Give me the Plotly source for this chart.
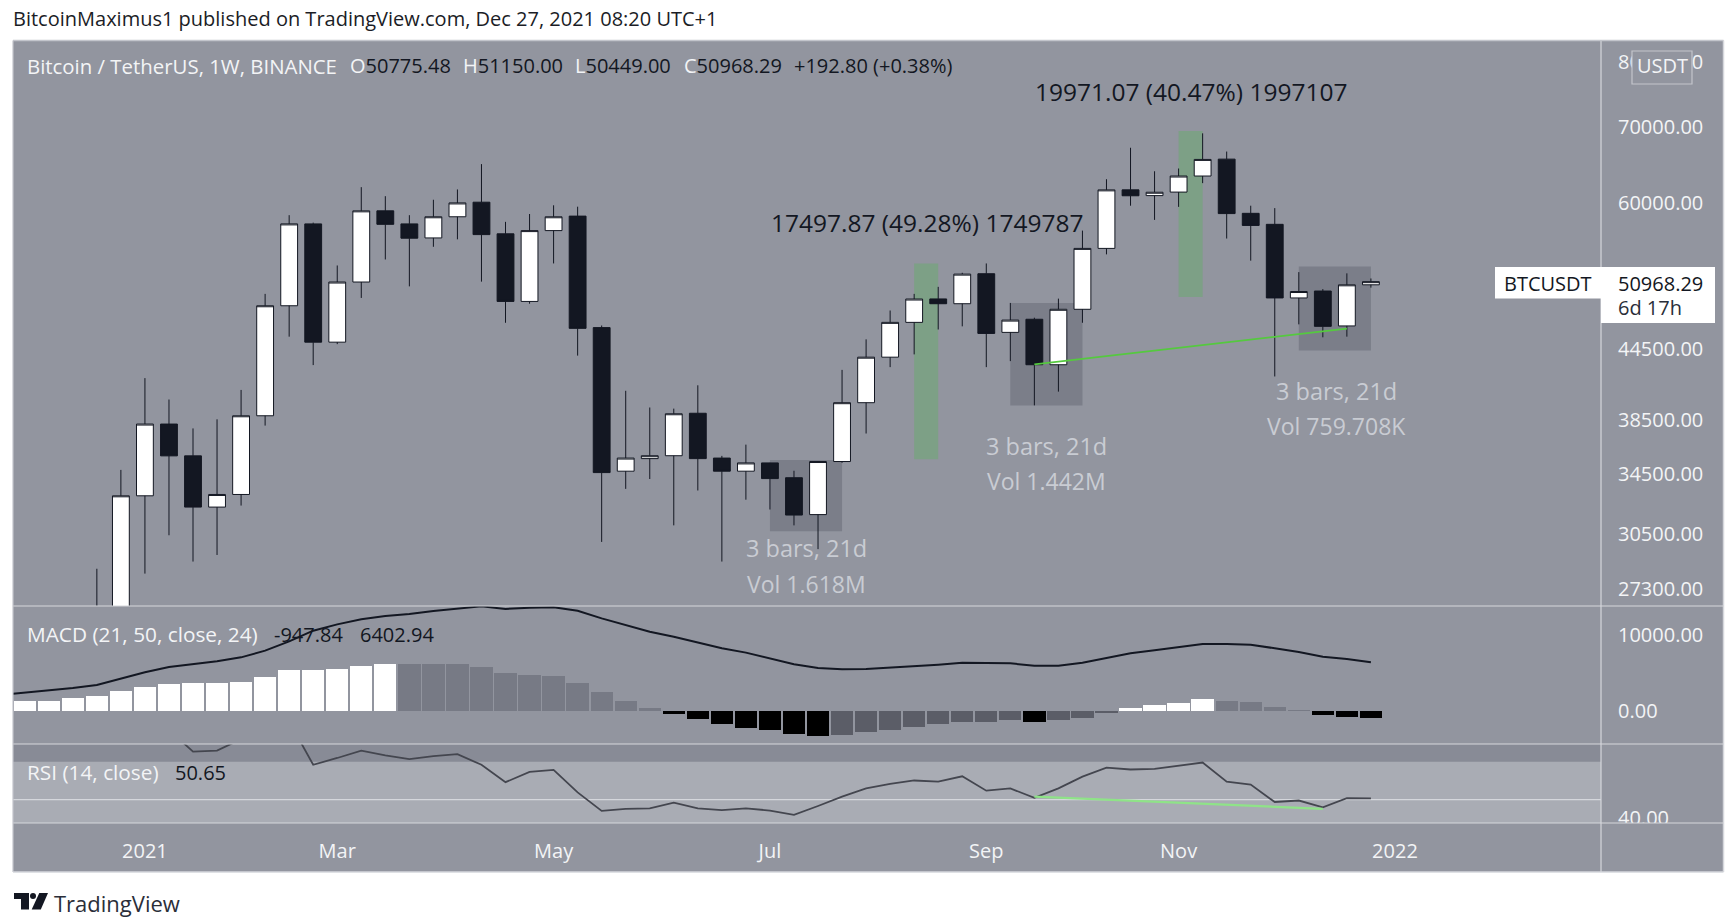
import numpy as np
import pandas as pd
import plotly.graph_objects as go
from plotly.subplots import make_subplots

W, H = 1735, 924

dates = pd.date_range("2020-11-23", periods=58, freq="W-MON")

opens = [18400, 18180, 19360, 19170, 23800, 26200, 33000, 38200, 35800, 32250, 33090,
         38850, 48620, 57450, 45140, 51030, 59000, 57450, 55830, 58290, 60050,
         56300, 49050, 56670, 58370, 46500, 34700, 35600, 35810, 39050, 35640,
         34700, 35290, 34240, 31760, 35390, 39900, 43780, 47000, 49300, 48820,
         51900, 46050, 47300, 43110, 48270, 54650, 61580, 60860, 61300, 63340,
         65560, 58700, 57400, 49400, 50100, 46660, 50740]
highs = [19500, 19900, 19700, 24300, 28440, 34790, 41950, 40160, 37860, 38570, 40950,
         49810, 58480, 57600, 52780, 61920, 60790, 58480, 60350, 61630, 64900,
         57690, 58620, 59670, 59500, 46700, 40880, 39510, 39420, 41340, 35800,
         36630, 35300, 34730, 35400, 42660, 45400, 48150, 49810, 50530, 52000,
         53000, 48900, 47450, 49330, 56670, 62930, 67100, 63960, 64320, 69100,
         66580, 59620, 59330, 52070, 50300, 51940, 51400]
lows = [16200, 17800, 18500, 19000, 21900, 25900, 28160, 30450, 28860, 29250, 32350,
        38080, 45650, 43080, 44960, 49400, 53430, 50580, 54830, 55670, 51070,
        46960, 48820, 53000, 43920, 30040, 33470, 34150, 31070, 33360, 28860,
        32740, 32090, 31070, 29600, 35300, 37470, 42900, 44030, 46320, 46620,
        42900, 43430, 39680, 40810, 46960, 53990, 59620, 57920, 59480, 62430,
        55760, 53300, 42090, 46810, 45590, 45650, 50449]
closes = [18180, 19360, 19170, 23800, 26200, 33000, 38200, 35800, 32250, 33090, 38850,
          48620, 57450, 45140, 51030, 59000, 57400, 55800, 58290, 59960, 56210,
          49050, 56670, 58290, 46430, 34600, 35640, 35810, 39010, 35600, 34700,
          35290, 34180, 31730, 35390, 39900, 43780, 47000, 49290, 48820, 51860,
          45950, 47220, 43110, 48270, 54650, 61580, 60840, 61280, 63340, 65520,
          58670, 57270, 49400, 50050, 46620, 50740, 51070]

macd_hist = [1200, 1360, 1370, 1670, 1970, 2590, 3200, 3510, 3680, 3700, 3820,
             4430, 5350, 5360, 5530, 5960, 6160, 6140, 6130, 6120, 5830,
             5040, 4740, 4600, 3680, 2460, 1360, 440, -350, -1100, -1710,
             -2190, -2500, -2980, -3290, -3110, -2810, -2500, -2060, -1710, -1420,
             -1400, -1230, -1400, -1230, -960, -220, 440, 750, 1050, 1540,
             1360, 1180, 570, 130, -480, -790, -947.84]
macd_line = [2120, 2410, 2680, 3030, 3420, 4250, 5090, 5790, 6180, 6535, 7060,
             7940, 9170, 10570, 11400, 12060, 12500, 12760, 13160, 13510, 13770,
             13420, 13600, 13640, 13200, 12190, 11320, 10440, 9780, 8990, 8250,
             7680, 6930, 6140, 5660, 5480, 5530, 5700, 5960, 6100, 6360,
             6320, 6270, 5960, 5960, 6360, 7020, 7590, 7980, 8420, 8820,
             8820, 8730, 8250, 7760, 7150, 6840, 6402.94]
rsi_line = [85, 86, 87, 88, 90, 92, 93, 86.8, 75.4, 75.9, 81.4,
            88, 91.4, 68.4, 72, 75.9, 73.4, 71.4, 73, 74, 68.4,
            59.2, 64.6, 65.7, 53.8, 44, 45.1, 45.3, 48.4, 45.3, 44.4,
            45.3, 44.2, 41.9, 46.6, 51.6, 55.9, 58.3, 60.1, 59.5, 62.3,
            54.7, 55.9, 50.9, 55.9, 62.1, 66.9, 65.9, 66.2, 67.8, 69.6,
            59.5, 57.9, 48.7, 49.5, 45.9, 50.7, 50.65]

price_ticks = [80000, 70000, 60000, 50000, 44500, 38500, 34500, 30500, 27300]
price_labels = ["80000.00", "70000.00", "60000.00", "50000.00", "44500.00",
                "38500.00", "34500.00", "30500.00", "27300.00"]
macd_ticks = [10000, 0]
macd_labels = ["10000.00", "0.00"]
rsi_ticks = [40]
rsi_labels = ["40.00"]
month_ticks = ["2021-01-04", "2021-03-01", "2021-05-03", "2021-07-05",
               "2021-09-06", "2021-11-01", "2022-01-03"]
month_labels = ["2021", "Mar", "May", "Jul", "Sep", "Nov", "2022"]

# drawings: (start, end, top price, bottom price)
grey_boxes = [("2021-07-05", "2021-07-26", 35500, 30700),
              ("2021-09-13", "2021-10-04", 48900, 39680),
              ("2021-12-06", "2021-12-27", 52660, 44390)]
green_boxes = [("2021-08-16", "2021-08-23", 53000, 35560),
               ("2021-11-01", "2021-11-08", 69440, 49490)]
div_dates = ["2021-09-20", "2021-12-20"]
div_prices = [43150, 46400]
rsi_div_dates = ["2021-09-20", "2021-12-13"]
rsi_div_values = [51.6, 45.1]

BG = "#92959f"
TXT = "#f3f4f6"
DARK = "#131722"
FONT = "Open Sans"


def px(x, y):
    return x / W, 1 - y / H


# histogram shading follows direction of the value
bar_colors = []
for i, v in enumerate(macd_hist):
    prev = macd_hist[i - 1] if i else v - 1
    if v >= 0:
        bar_colors.append("#ffffff" if v > prev else "#777a85")
    else:
        bar_colors.append("#000000" if v < prev else "#5b5d67")

fig = make_subplots(rows=3, cols=1, shared_xaxes=True)

fig.add_trace(go.Candlestick(
    x=dates, open=opens, high=highs, low=lows, close=closes, whiskerwidth=0,
    increasing=dict(line=dict(color=DARK, width=1), fillcolor="#ffffff"),
    decreasing=dict(line=dict(color=DARK, width=1), fillcolor=DARK),
    hoverinfo="skip"), row=1, col=1)
fig.add_trace(go.Scatter(x=div_dates, y=div_prices, mode="lines",
                         line=dict(color="#55c93f", width=1.8)), row=1, col=1)

fig.add_trace(go.Bar(x=dates, y=macd_hist, marker_color=bar_colors, marker_line_width=0,
                     width=6.5 * 86400000), row=2, col=1)
fig.add_trace(go.Scatter(x=dates, y=macd_line, mode="lines",
                         line=dict(color=DARK, width=2)), row=2, col=1)

fig.add_trace(go.Scatter(x=dates, y=rsi_line, mode="lines",
                         line=dict(color="#44464f", width=1.8)), row=3, col=1)
fig.add_trace(go.Scatter(x=rsi_div_dates, y=rsi_div_values, mode="lines",
                         line=dict(color="#8fe388", width=2.2)), row=3, col=1)

shapes = []


def paper_rect(x0, y0, x1, y1, fill, layer="below"):
    a, b = px(x0, y0)
    c, d = px(x1, y1)
    shapes.append(dict(type="rect", xref="paper", yref="paper", x0=a, y0=b, x1=c, y1=d,
                       fillcolor=fill, line_width=0, layer=layer))


def paper_line(x0, y0, x1, y1, color="#d5d7dc", width=1.2):
    a, b = px(x0, y0)
    c, d = px(x1, y1)
    shapes.append(dict(type="line", xref="paper", yref="paper", x0=a, y0=b, x1=c, y1=d,
                       line=dict(color=color, width=width), layer="above"))


def paper_path(points, fill):
    path = ""
    for i, (x, y) in enumerate(points):
        a, b = px(x, y)
        path += ("M" if i == 0 else "L") + f"{a:.5f},{b:.5f} "
    shapes.append(dict(type="path", xref="paper", yref="paper", path=path + "Z",
                       fillcolor=fill, line_width=0))


paper_rect(13, 40.5, 1723.5, 872, BG)
paper_rect(13, 744, 1601, 823, "#888b96")

for x0, x1, top, bottom in grey_boxes:
    shapes.append(dict(type="rect", xref="x", yref="y", x0=x0, x1=x1, y0=bottom, y1=top,
                       fillcolor="rgba(100,103,115,0.5)", line_width=0, layer="below"))
for x0, x1, top, bottom in green_boxes:
    shapes.append(dict(type="rect", xref="x", yref="y", x0=x0, x1=x1, y0=bottom, y1=top,
                       fillcolor="rgba(80,185,80,0.32)", line_width=0, layer="below"))

shapes.append(dict(type="rect", xref="x3 domain", yref="y3", x0=0, x1=1, y0=30, y1=70,
                   fillcolor="#a9acb4", line_width=0, layer="below"))
shapes.append(dict(type="line", xref="x3 domain", yref="y3", x0=0, x1=1, y0=50, y1=50,
                   line=dict(color="#d5d7dc", width=1.2), layer="below"))

# clips the bottom of the 40.00 label, like the pane edge does
paper_rect(1602, 823, 1723.5, 871, BG, layer="above")

for y in (606, 744, 823):
    paper_line(13, y, 1723.5, y)
paper_line(1601, 40.5, 1601, 872)
paper_line(13, 40.5, 1723.5, 40.5, "#c3c5cc", 1.5)
paper_line(13, 40.5, 13, 872, "#c3c5cc", 1.2)
paper_line(13, 872, 1723.5, 872, "#d5d7dc", 1.5)
paper_line(1723.5, 40.5, 1723.5, 872, "#d5d7dc", 1.5)

# last price label
paper_rect(1495, 267, 1715, 298.5, "#ffffff", layer="above")
paper_rect(1601, 298, 1715, 323, "#ffffff", layer="above")

# currency button
a0, b0 = px(1632, 84)
a1, b1 = px(1692, 51)
shapes.append(dict(type="rect", xref="paper", yref="paper", x0=a0, y0=b0, x1=a1, y1=b1,
                   fillcolor=BG, line=dict(color="#c3c5cc", width=1.2), layer="above"))

# logo
paper_path([(14, 893), (29, 893), (29, 909.5), (21, 909.5), (21, 899), (14, 899)], DARK)
paper_path([(39.3, 893), (48, 893), (40.8, 909.5), (31.7, 909.5)], DARK)
a0, b0 = px(30, 893)
a1, b1 = px(36, 899)
shapes.append(dict(type="circle", xref="paper", yref="paper", x0=a0, y0=b0, x1=a1, y1=b1,
                   fillcolor=DARK, line_width=0))

annotations = []


def label(x, y, text, color=TXT, size=20, anchor="left"):
    a, b = px(x, y)
    annotations.append(dict(xref="paper", yref="paper", x=a, y=b, text=text, showarrow=False,
                            xanchor=anchor, yanchor="middle", borderpad=0,
                            font=dict(family=FONT, size=size, color=color)))


def ohlc(x, letter, value):
    label(x, 66, f'<span style="color:{TXT}">{letter}</span>{value}', DARK)


label(12, 19, "BitcoinMaximus1 published on TradingView.com, Dec 27, 2021 08:20 UTC+1", "#1b1d26")
label(26, 66, "Bitcoin / TetherUS, 1W, BINANCE", TXT, 20.4)
ohlc(349, "O", "50775.48")
ohlc(462, "H", "51150.00")
ohlc(574, "L", "50449.00")
ohlc(683, "C", "50968.29")
label(793, 66, "+192.80 (+0.38%)", DARK)
label(770, 223, "17497.87 (49.28%) 1749787", DARK, 24.5)
label(1034, 91, "19971.07 (40.47%) 1997107", DARK, 24.5)

for cx, y0, vol in [(806, 548, "Vol 1.618M"), (1046, 446, "Vol 1.442M"), (1336, 391, "Vol 759.708K")]:
    label(cx, y0, "3 bars, 21d", "#c9ccd3", 23.5, "center")
    label(cx, y0 + 35.5, vol, "#c9ccd3", 23, "center")

label(26, 634, "MACD (21, 50, close, 24)", TXT, 20.8)
label(273, 634, "-947.84", DARK)
label(359, 634, "6402.94", DARK)
label(26, 772, "RSI (14, close)", TXT, 20.8)
label(174, 772, "50.65", DARK)

label(1503, 283, "BTCUSDT", DARK)
label(1617, 283, "50968.29", DARK)
label(1617, 308, "6d 17h", "#2a2e39")
label(1662, 66, "USDT", TXT, 20, "center")
label(53, 903, "TradingView", "#2a2e39", 22)

fig.update_layout(
    width=W, height=H, margin=dict(l=0, r=0, t=0, b=0, autoexpand=False),
    paper_bgcolor="#ffffff", plot_bgcolor="rgba(0,0,0,0)",
    showlegend=False, hovermode=False, bargap=0, boxgap=0.3, boxgroupgap=0,
    font=dict(family=FONT, size=20, color=TXT),
    shapes=shapes, annotations=annotations,
)

x_range = ["2020-11-26 14:00", "2022-03-04"]
x_dom = [13 / W, 1601 / W]
fig.update_xaxes(range=x_range, domain=x_dom, showgrid=False, zeroline=False, showline=False,
                 automargin=False, rangeslider_visible=False, ticks="")
fig.update_xaxes(showticklabels=False, row=1, col=1)
fig.update_xaxes(showticklabels=False, row=2, col=1)
fig.update_xaxes(tickmode="array", tickvals=month_ticks, ticktext=month_labels,
                 showticklabels=True, ticks="outside", tickcolor="rgba(0,0,0,0)", ticklen=10,
                 row=3, col=1)

fig.update_yaxes(side="right", showgrid=False, zeroline=False, showline=False, automargin=False,
                 ticks="outside", tickcolor="rgba(0,0,0,0)", ticklen=12)
fig.update_yaxes(type="log", range=[np.log10(26360), np.log10(83500)],
                 domain=[px(0, 606)[1], px(0, 40.5)[1]],
                 tickmode="array", tickvals=price_ticks, ticktext=price_labels, row=1, col=1)
fig.update_yaxes(range=[-4342, 13816], domain=[px(0, 744)[1], px(0, 606)[1]],
                 tickmode="array", tickvals=macd_ticks, ticktext=macd_labels, row=2, col=1)
fig.update_yaxes(range=[37.6, 79.4], domain=[px(0, 823)[1], px(0, 744)[1]],
                 tickmode="array", tickvals=rsi_ticks, ticktext=rsi_labels, row=3, col=1)

fig.write_html("out.html", config=dict(displayModeBar=False),
               post_script="document.body.style.margin='0';document.body.style.overflow='hidden';")
